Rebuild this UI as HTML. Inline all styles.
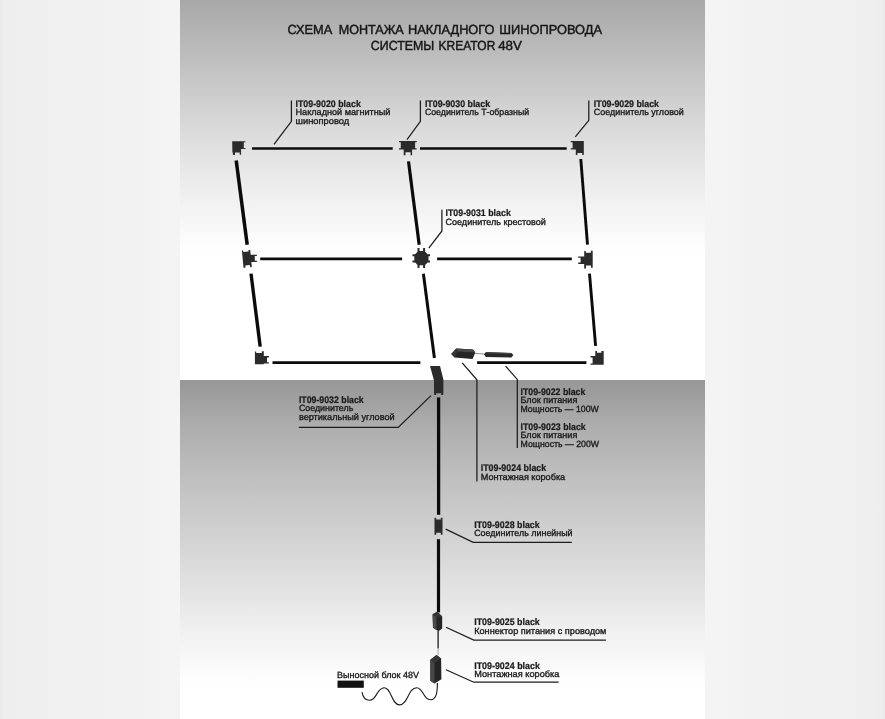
<!DOCTYPE html>
<html lang="ru">
<head>
<meta charset="utf-8">
<title>Схема монтажа накладного шинопровода системы KREATOR 48V</title>
<style>
  html, body { margin: 0; padding: 0; }
  body {
    width: 885px; height: 719px; overflow: hidden; position: relative;
    font-family: "Liberation Sans", sans-serif;
    background: linear-gradient(to right, #eaeaea 0px, #eeeeee 6px, #f1f1f1 90px, #f4f4f4 180px, #f4f4f4 705px, #f1f1f1 800px, #efefef 878px, #ebebeb 885px);
  }
  .panel-top {
    position: absolute; left: 180px; top: 0; width: 525px; height: 380px;
    background: linear-gradient(to bottom, #a8a8a8 0px, #b7b7b7 40px, #c7c7c7 80px, #d7d7d7 120px, #e5e5e5 160px, #f1f1f1 200px, #fafafa 232px, #ffffff 255px, #ffffff 380px);
  }
  .panel-bottom {
    position: absolute; left: 180px; top: 380px; width: 525px; height: 339px;
    background: linear-gradient(to bottom, #979797 0px, #afafaf 50px, #c0c0c0 100px, #d0d0d0 150px, #e3e3e3 210px, #f0f0f0 250px, #fbfbfb 290px, #ffffff 312px, #ffffff 339px);
  }
  svg { position: absolute; left: 0; top: 0; text-rendering: geometricPrecision; filter: blur(0.35px); }
  .t  { font-family: "Liberation Sans", sans-serif; font-size: 9px; fill: #1a1a1a; stroke: #1a1a1a; stroke-width: 0.34px; }
  .b  { font-weight: bold; font-size: 9.5px; stroke-width: 0.22px; }
  .h  { font-family: "Liberation Sans", sans-serif; font-size: 13.2px; fill: #161616; stroke: #161616; stroke-width: 0.45px; }
  .ld { stroke: #1c1c1c; stroke-width: 1.25; fill: none; }
  .tr { stroke: #0b0b0b; stroke-width: 3; fill: none; stroke-linecap: butt; }
  .cn { fill: #2b2b2b; }
</style>
</head>
<body>
<div class="panel-top"></div>
<div class="panel-bottom"></div>
<svg width="885" height="719" viewBox="0 0 885 719">
  <!-- TITLE -->
  <g class="h">
    <text x="287.4" y="34.4" textLength="44.8" lengthAdjust="spacingAndGlyphs">СХЕМА</text>
    <text x="338.7" y="34.4" textLength="65.0" lengthAdjust="spacingAndGlyphs">МОНТАЖА</text>
    <text x="407.9" y="34.4" textLength="86.6" lengthAdjust="spacingAndGlyphs">НАКЛАДНОГО</text>
    <text x="499.2" y="34.4" textLength="102.9" lengthAdjust="spacingAndGlyphs">ШИНОПРОВОДА</text>
    <text x="370.8" y="50.4" textLength="63.5" lengthAdjust="spacingAndGlyphs">СИСТЕМЫ</text>
    <text x="438.5" y="50.4" textLength="56.8" lengthAdjust="spacingAndGlyphs">KREATOR</text>
    <text x="498.2" y="50.4" textLength="23.7" lengthAdjust="spacingAndGlyphs">48V</text>
  </g>

  <!-- TRACKS -->
  <g class="tr">
    <!-- top row -->
    <line x1="252" y1="148.5" x2="392.7" y2="148.5" stroke-width="2.7"/>
    <line x1="420" y1="148.5" x2="566.7" y2="148.5" stroke-width="2.7"/>
    <!-- middle row -->
    <line x1="260.2" y1="258.9" x2="402.1" y2="258.9" stroke-width="2.8"/>
    <line x1="437.1" y1="258.9" x2="571.8" y2="258.9" stroke-width="2.8"/>
    <!-- bottom row -->
    <line x1="272.5" y1="362.6" x2="420.4" y2="362.6" stroke-width="2.8"/>
    <line x1="477.1" y1="362.6" x2="586.4" y2="362.6" stroke-width="2.8"/>
    <!-- left verticals -->
    <line x1="236.2" y1="160.4" x2="247.2" y2="244.8" stroke-width="3.5"/>
    <line x1="251" y1="273.6" x2="260.2" y2="346.6" stroke-width="3.4"/>
    <!-- centre verticals -->
    <line x1="408.5" y1="161.4" x2="419.2" y2="244.8" stroke-width="3.2"/>
    <line x1="423.4" y1="273.8" x2="434.4" y2="358" stroke-width="3"/>
    <!-- right verticals -->
    <line x1="580.8" y1="159" x2="587.5" y2="244.6" stroke-width="2.9"/>
    <line x1="589.5" y1="273.6" x2="595.6" y2="345.9" stroke-width="2.9"/>
    <!-- drop -->
    <line x1="438.6" y1="397.4" x2="438.6" y2="514.8" stroke-width="3.3"/>
    <line x1="438.5" y1="539.2" x2="438.5" y2="612.4" stroke-width="3.2"/>
  </g>

  <!-- CONNECTORS -->
  <g class="cn">
    <!-- top-left corner -->
    <path d="M232.2,141.2 H245.4 V142.3 H243.8 V147.9 H245.5 V149 H241.1 V154.7 H239.7 V152.6 H235 V155 H232.9 V152.6 H232.4 Z"/>
    <!-- top centre T -->
    <path d="M399,141 H416.7 V142.3 H415.1 V148.2 H416.6 V149.5 H412.1 V155.3 H410.6 V152.3 H405.5 V155.3 H403.7 V149.5 H399 V148.2 H400.8 V142.3 H399 Z"/>
    <!-- top-right corner -->
    <path d="M570.7,140.9 H583.8 V154.9 H582.2 V152.9 H577.4 V154.9 H575.8 V149.6 H570.7 V148.3 H572.6 V142.2 H570.7 Z"/>
    <!-- mid-left T -->
    <path d="M241.9,250.6 L243.2,250.6 L243.4,252 L248.6,251.6 L248.5,249.9 L250.2,249.9 L250.7,254.7 H256.9 V256 H254.8 V260.8 H256.9 V262.1 H251.3 L251.9,267 L250.2,267.2 L249.9,265 L245.3,265.4 L245.5,267.7 L243.5,267.8 Z"/>
    <!-- cross -->
    <path d="M417.5,248.1 H419.5 V250.9 H423.1 V248.1 H425.1 V251.7 L427.6,254.3 H430 V256.2 H428.5 V260.6 H430 V262.5 H427.6 L425.1,265 V268 H423.1 V265.3 H419.5 V268 H417.5 V265 L415.1,262.5 H412.5 V260.6 H414.3 V256.2 H412.5 V254.3 H415.1 L417.5,251.7 Z"/>
    <!-- mid-right T -->
    <path d="M584.2,250.9 H585.8 V252.7 H590.9 V250.7 H592.7 V267.7 H591 V265.4 H586 V268.5 H584.2 V263.9 H578.2 V262.6 H580.6 V257.8 H578.2 V256.5 H584.2 Z"/>
    <!-- bottom-left corner -->
    <path d="M254.9,351.4 H256.2 V353 H261.8 V351.2 H263.8 V356.1 H268.9 V357.4 H267 V362.2 H268.9 V363.6 H263.8 V364.3 H254.9 Z"/>
    <!-- bottom-right corner -->
    <path d="M595.3,351 H597 V352.8 H601.4 V351 H603.7 V364.7 H590.5 V363.4 H592.6 V357.5 H590.5 V356.1 H595.3 Z"/>
    <!-- vertical angle connector -->
    <path d="M430,366 H440 L443.4,379.6 V393.2 H443.2 V395 H441.2 V393.2 H436.2 V395 H434.2 V393.2 H434 V380.4 Z"/>
    <!-- linear connector -->
    <path d="M434.5,517.8 H436.2 V519.6 H440.8 V517.8 H442.5 V534.7 H440.8 V532.8 H436.2 V534.7 H434.5 Z"/>
  </g>

  <!-- junction box near PSU -->
  <path d="M451.3,354.1 L456.3,348.4 L473,349.5 L475.3,352.4 L472.6,359 L454.6,357.6 Z" fill="#252525"/>
  <path d="M456.3,348.4 L473,349.5 L475.3,352.4 L457.6,351.5 Z" fill="#474747"/>
  <path d="M451.3,354.1 L456.3,348.4 L457.6,351.5 L454.6,357.6 Z" fill="#363636"/>
  <line x1="475.2" y1="353.4" x2="484" y2="354" stroke="#8a8a8a" stroke-width="1"/>
  <!-- PSU -->
  <path d="M483.9,354.2 L486.1,352.1 L511.4,352.9 L513.4,355 L511.4,357.6 L485.8,357.1 Z" fill="#292929"/>
  <path d="M485,353.3 L486.3,352.2 L511.3,353 L512.2,354 Z" fill="#484848"/>

  <!-- 9025 power connector -->
  <path d="M437.3,611.8 L442.2,616.6 V628.6 L438.5,631.3 L433,627.8 L432.6,614.2 Z" fill="#252525"/>
  <path d="M432.6,614.2 L436.4,616.8 V629.9 L433,627.8 Z" fill="#4a4a4a"/>
  <path d="M432.6,614.2 L437.3,611.8 L442.2,616.6 L436.4,616.8 Z" fill="#343434"/>
  <line x1="438.1" y1="631" x2="438.1" y2="648.5" stroke="#1c1c1c" stroke-width="1.3"/>
  <line x1="438.1" y1="648.5" x2="438.1" y2="655" stroke="#b0b0b0" stroke-width="1.1"/>
  <!-- 9024 bottom junction box -->
  <path d="M436.6,655 L441.1,658.4 L441.4,679.3 L434.5,683.4 L430.3,680.7 V659.8 Z" fill="#252525"/>
  <path d="M430.3,659.8 L434.5,662.8 V683.4 L430.3,680.7 Z" fill="#474747"/>
  <path d="M430.3,659.8 L436.6,655 L441.1,658.4 L434.5,662.8 Z" fill="#363636"/>
  <!-- wavy wire -->
  <path d="M437.4,683 C437.4,690 437,700 430.3,699.8 C423,699.8 423.5,687.7 416.7,687.7 C408,687.7 408,704.9 399.6,704.9 C391.5,704.9 391.5,687.7 384.2,687.7 C376.5,687.7 377,700.3 369.7,700.3 C364.5,700.3 362.6,696 362,692.2" stroke="#1a1a1a" stroke-width="1.1" fill="none"/>
  <!-- remote block -->
  <rect x="337.5" y="680.6" width="26.3" height="7.2" fill="#111"/>

  <!-- LEADERS -->
  <g class="ld">
    <path d="M291.4,100.5 V121.3 L274,144.3"/>
    <path d="M420.4,100.5 V121.3 L407,139.6"/>
    <path d="M588.8,100.5 V120.3 L575.3,136.8"/>
    <path d="M441.9,209.8 V231 L428.8,248.2"/>
    <path d="M298.8,427.4 H398.2 L431,395.6"/>
    <path d="M462.2,362.8 L476.9,379.8 V481.6"/>
    <path d="M505.6,366.2 L517.3,379.4 V448"/>
    <path d="M445.7,529.1 L473.2,542.3 H571.8"/>
    <path d="M446,627.2 L473.8,640.1 H605.9"/>
    <path d="M446,669.8 L473.8,682.2 H558.6"/>
  </g>

  <!-- LABELS -->
  <g class="t">
    <text class="b" x="295.5" y="106.9" textLength="65.3" lengthAdjust="spacingAndGlyphs">IT09-9020 black</text>
    <text x="295.5" y="115.1" textLength="94.9" lengthAdjust="spacingAndGlyphs">Накладной магнитный</text>
    <text x="295.5" y="123.6" textLength="53.7" lengthAdjust="spacingAndGlyphs">шинопровод</text>

    <text class="b" x="424.9" y="106.9" textLength="65.2" lengthAdjust="spacingAndGlyphs">IT09-9030 black</text>
    <text x="424.9" y="115.2" textLength="104.2" lengthAdjust="spacingAndGlyphs">Соединитель Т-образный</text>

    <text class="b" x="593.8" y="106.9" textLength="65.2" lengthAdjust="spacingAndGlyphs">IT09-9029 black</text>
    <text x="593.8" y="115.2" textLength="90.0" lengthAdjust="spacingAndGlyphs">Соединитель угловой</text>

    <text class="b" x="445.5" y="216.4" textLength="65.3" lengthAdjust="spacingAndGlyphs">IT09-9031 black</text>
    <text x="445.5" y="225.0" textLength="100.3" lengthAdjust="spacingAndGlyphs">Соединитель крестовой</text>

    <text class="b" x="298.9" y="402.8" textLength="64.8" lengthAdjust="spacingAndGlyphs">IT09-9032 black</text>
    <text x="298.9" y="411.4" textLength="54.4" lengthAdjust="spacingAndGlyphs">Соединитель</text>
    <text x="298.9" y="420.0" textLength="95.7" lengthAdjust="spacingAndGlyphs">вертикальный угловой</text>

    <text class="b" x="520.5" y="394.7" textLength="64.8" lengthAdjust="spacingAndGlyphs">IT09-9022 black</text>
    <text x="520.5" y="403.4" textLength="56.8" lengthAdjust="spacingAndGlyphs">Блок питания</text>
    <text x="520.5" y="411.9" textLength="78.2" lengthAdjust="spacingAndGlyphs">Мощность — 100W</text>

    <text class="b" x="520.5" y="429.7" textLength="65.2" lengthAdjust="spacingAndGlyphs">IT09-9023 black</text>
    <text x="520.5" y="438.4" textLength="56.8" lengthAdjust="spacingAndGlyphs">Блок питания</text>
    <text x="520.5" y="446.9" textLength="78.6" lengthAdjust="spacingAndGlyphs">Мощность — 200W</text>

    <text class="b" x="480.7" y="471.0" textLength="65.5" lengthAdjust="spacingAndGlyphs">IT09-9024 black</text>
    <text x="480.7" y="479.7" textLength="84.5" lengthAdjust="spacingAndGlyphs">Монтажная коробка</text>

    <text class="b" x="474.2" y="527.6" textLength="65.5" lengthAdjust="spacingAndGlyphs">IT09-9028 black</text>
    <text x="474.2" y="536.3" textLength="98.4" lengthAdjust="spacingAndGlyphs">Соединитель линейный</text>

    <text class="b" x="474.2" y="624.8" textLength="65.6" lengthAdjust="spacingAndGlyphs">IT09-9025 black</text>
    <text x="474.2" y="633.9" textLength="132.2" lengthAdjust="spacingAndGlyphs">Коннектор питания с проводом</text>

    <text class="b" x="474.2" y="668.6" textLength="65.7" lengthAdjust="spacingAndGlyphs">IT09-9024 black</text>
    <text x="474.2" y="677.4" textLength="85.2" lengthAdjust="spacingAndGlyphs">Монтажная коробка</text>

    <text x="337.1" y="677.8" textLength="81.8" lengthAdjust="spacingAndGlyphs">Выносной блок 48V</text>

  </g>
</svg>
</body>
</html>
